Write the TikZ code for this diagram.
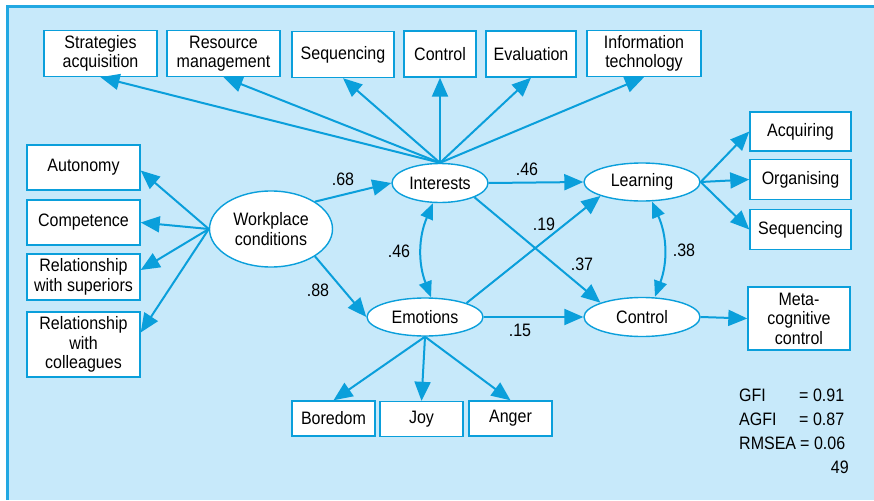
\documentclass[tikz,border=0pt]{standalone}
\usepackage{fontspec}
\setmainfont{Liberation Sans}[FakeStretch=0.89]
\usetikzlibrary{arrows.meta,shapes.geometric}
\definecolor{semblue}{HTML}{0A9FDB}
\definecolor{semframe}{HTML}{22A8E2}
\definecolor{semback}{HTML}{C7E9FA}
\tikzset{
  obs/.style={draw=semblue,line width=1.4pt,fill=white,inner sep=0pt,align=center,
    font=\fontsize{18}{19.5}\selectfont},
  lat/.style={ellipse,draw=semblue,line width=1.4pt,fill=white,inner sep=0pt,align=center,
    font=\fontsize{18}{19.5}\selectfont},
  link/.style={draw=semblue,line width=2pt,-{Triangle[length=19pt,width=16pt]}},
  twoway/.style={draw=semblue,line width=2pt,{Triangle[length=16pt,width=13pt]}-{Triangle[length=16pt,width=13pt]}},
  coef/.style={inner sep=0pt,font=\fontsize{18}{20}\selectfont},
  fit/.style={inner sep=0pt,font=\fontsize{18}{20}\selectfont}
}
\begin{document}
\begin{tikzpicture}[x=1pt,y=-1pt]
\useasboundingbox (0,0) rectangle (874,500);
\fill[white] (0,0) rectangle (874,500);
\fill[semback] (7,6) rectangle (874,500);
\draw[semframe,line width=3pt] (7.5,500) -- (7.5,6.5) -- (874,6.5);

% latent variables
\node[lat,minimum width=123pt,minimum height=76pt] (work) at (271,229) {Workplace\\conditions};
\node[lat,minimum width=96pt,minimum height=39pt] (interests) at (440,183) {Interests};
\node[lat,minimum width=116pt,minimum height=38pt] (emotions) at (425,317) {Emotions};
\node[lat,minimum width=116pt,minimum height=38pt] (learning) at (642,182) {Learning};
\node[lat,minimum width=116pt,minimum height=39pt] (control) at (642,317) {Control};

% indicators
\node[obs,minimum width=113pt,minimum height=46pt] (strat) at (100.5,53.5) {Strategies\\acquisition};
\node[obs,minimum width=113pt,minimum height=46pt] (resource) at (223.5,53.5) {Resource\\management};
\node[obs,minimum width=102pt,minimum height=46pt] (seqa) at (343,54.5) {Sequencing};
\node[obs,minimum width=72pt,minimum height=46pt] (ctrl) at (440,54) {Control};
\node[obs,minimum width=90pt,minimum height=46pt] (eval) at (531,54) {Evaluation};
\node[obs,minimum width=114pt,minimum height=46pt] (info) at (644,53.5) {Information\\technology};

\node[obs,minimum width=113pt,minimum height=45pt] (autonomy) at (83.5,167.5) {Autonomy};
\node[obs,minimum width=113pt,minimum height=45pt] (competence) at (83.5,222.5) {Competence};
\node[obs,minimum width=113pt,minimum height=46pt] (superiors) at (83.5,277) {Relationship\\with superiors};
\node[obs,minimum width=113pt,minimum height=65pt] (colleagues) at (83.5,344.5) {Relationship\\with\\colleagues};

\node[obs,minimum width=101pt,minimum height=39pt] (acquiring) at (800.5,131.5) {Acquiring};
\node[obs,minimum width=101pt,minimum height=40pt] (organising) at (800.5,179.5) {Organising};
\node[obs,minimum width=101pt,minimum height=40pt] (seqb) at (800.5,229.5) {Sequencing};
\node[obs,minimum width=102pt,minimum height=63pt] (meta) at (799,318.5) {Meta-\\cognitive\\control};

\node[obs,minimum width=83pt,minimum height=35pt] (boredom) at (333.5,418.5) {Boredom};
\node[obs,minimum width=83pt,minimum height=35pt] (joy) at (421.5,419) {Joy};
\node[obs,minimum width=83pt,minimum height=35pt] (anger) at (510.5,418.5) {Anger};

% paths
\draw[link] (interests.north) -- (strat.south);
\draw[link] (interests.north) -- (resource.south);
\draw[link] (interests.north) -- (seqa.south);
\draw[link] (interests.north) -- (ctrl.south);
\draw[link] (interests.north) -- (eval.south);
\draw[link] (interests.north) -- (info.south);

\draw[link] (work.west) -- ([yshift=-3pt]autonomy.east);
\draw[link] (work.west) -- (competence.east);
\draw[link] (work.west) -- ([yshift=7pt]superiors.east);
\draw[link] (work.west) -- ([yshift=12pt]colleagues.east);

\draw[link] (work.north east) -- (interests.west);
\draw[link] (work.south east) -- (emotions.west);
\draw[link] (interests.east) -- (learning.west);
\draw[link] (interests.south east) -- (control.north west);
\draw[link] (emotions.north east) -- (learning.south west);
\draw[link] (emotions.east) -- (control.west);
\draw[twoway] ([xshift=-7pt]interests.south) to[bend right=22] ([xshift=6pt]emotions.north);
\draw[twoway] ([xshift=10pt]learning.south) to[bend left=22] ([xshift=13pt]control.north);

\draw[link] (learning.east) -- (acquiring.west);
\draw[link] (learning.east) -- (organising.west);
\draw[link] (learning.east) -- (seqb.west);
\draw[link] (control.east) -- (meta.west);

\draw[link] (emotions.south) -- (boredom.north);
\draw[link] (emotions.south) -- (joy.north);
\draw[link] (emotions.south) -- (anger.north);

% coefficients
\node[coef] (c68) at (343,179) {.68};
\node[coef] (c88) at (318,290) {.88};
\node[coef] (c46a) at (399,251) {.46};
\node[coef] (c46b) at (527,169) {.46};
\node[coef] (c19) at (544,224) {.19};
\node[coef] (c37) at (582,264) {.37};
\node[coef] (c38) at (684,250) {.38};
\node[coef] (c15) at (520,330) {.15};

% fit indices
\node[fit,anchor=base west] (gfi) at (739,401) {GFI};
\node[fit,anchor=base west] (gfiv) at (799,401) {= 0.91};
\node[fit,anchor=base west] (agfi) at (739,425) {AGFI};
\node[fit,anchor=base west] (agfiv) at (799,425) {= 0.87};
\node[fit,anchor=base west] (rmsea) at (739,449) {RMSEA};
\node[fit,anchor=base west] (rmseav) at (800,449) {= 0.06};
\node[fit,anchor=base east] (num) at (849,473) {49};
\end{tikzpicture}
\end{document}
